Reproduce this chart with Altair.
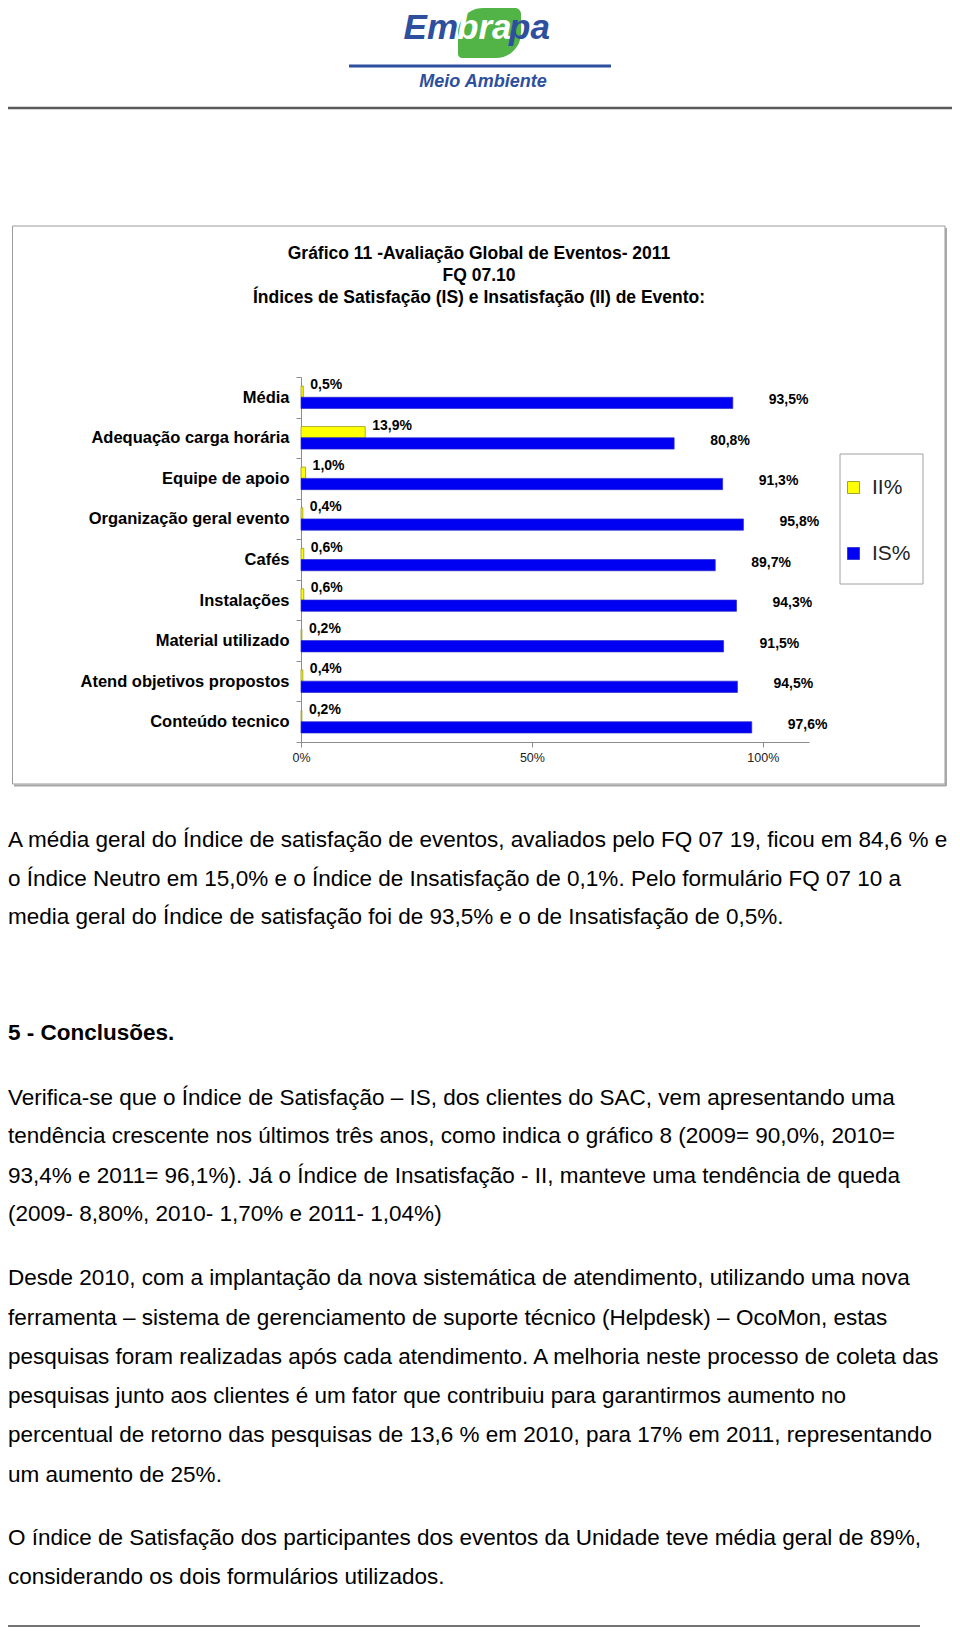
import altair as alt
import pandas as pd

# ---------------- data ----------------
categories = ["Média", "Adequação carga horária", "Equipe de apoio",
              "Organização geral evento", "Cafés", "Instalações",
              "Material  utilizado", "Atend objetivos propostos", "Conteúdo tecnico"]
ii_values = [0.5, 13.9, 1.0, 0.4, 0.6, 0.6, 0.2, 0.4, 0.2]
is_values = [93.5, 80.8, 91.3, 95.8, 89.7, 94.3, 91.5, 94.5, 97.6]
series = ["II%", "IS%"]
x_ticks = [0, 50, 100]

title_lines = ["Gráfico 11  -Avaliação Global de  Eventos- 2011",
               "FQ 07.10",
               "Índices de Satisfação (IS) e Insatisfação (II) de Evento:"]

para1 = ["A média geral do Índice de satisfação de eventos, avaliados pelo FQ 07 19, ficou em 84,6 % e",
         "o Índice Neutro em 15,0% e o Índice de Insatisfação de 0,1%. Pelo formulário FQ 07 10 a",
         "media geral do Índice de satisfação foi de 93,5% e o de Insatisfação de 0,5%."]
heading = "5 - Conclusões."
para2 = ["Verifica-se que o Índice de Satisfação – IS, dos clientes do SAC, vem apresentando uma",
         "tendência crescente nos últimos três anos, como indica o gráfico 8 (2009= 90,0%, 2010=",
         "93,4% e 2011= 96,1%). Já o Índice de Insatisfação - II, manteve uma tendência de queda",
         "(2009- 8,80%, 2010- 1,70% e 2011- 1,04%)"]
para3 = ["Desde 2010, com a implantação da nova sistemática de atendimento, utilizando uma nova",
         "ferramenta – sistema de gerenciamento de suporte técnico (Helpdesk) – OcoMon, estas",
         "pesquisas foram realizadas após cada atendimento. A melhoria neste processo de coleta das",
         "pesquisas junto aos clientes é um fator que contribuiu para garantirmos aumento no",
         "percentual de retorno das pesquisas de 13,6 % em 2010, para 17% em 2011, representando",
         "um aumento de 25%."]
para4 = ["O índice de Satisfação dos participantes dos eventos da Unidade teve média geral de 89%,",
         "considerando os dois formulários utilizados."]

df = pd.DataFrame({
    "cat": categories * 2,
    "serie": ["II%"] * len(categories) + ["IS%"] * len(categories),
    "v": ii_values + is_values,
})

FONT = "Liberation Sans"
BLUE_LOGO = "#2d4f9e"
one = pd.DataFrame({"k": [0]})

# plot origin on page: (301, 377); svg origin on page: (8, 8)
OX, OY = 301, 377


def px(x):
    return x - OX


def py(y):
    return y - OY


def txt(s, x, y, size, weight="normal", align="left", color="#000000",
        style="normal", baseline="middle"):
    return alt.Chart(one).mark_text(
        text=s, font=FONT, fontSize=size, fontWeight=weight, align=align,
        baseline=baseline, color=color, fontStyle=style
    ).encode(x=alt.value(px(x)), y=alt.value(py(y)))


def hline(x1, x2, y, color, width):
    return alt.Chart(one).mark_rule(color=color, strokeWidth=width).encode(
        x=alt.value(px(x1)), x2=alt.value(px(x2)), y=alt.value(py(y)))


def box(x1, x2, y1, y2, stroke, width=1):
    return alt.Chart(one).mark_rect(
        fillOpacity=0, stroke=stroke, strokeWidth=width
    ).encode(x=alt.value(px(x1)), x2=alt.value(px(x2)),
             y=alt.value(py(y1)), y2=alt.value(py(y2)))


layers = []

# ---- header / logo ----
layers.append(alt.Chart(one).mark_rect(
    color="#52b447", cornerRadiusTopLeft=26, cornerRadiusBottomRight=26,
    cornerRadiusTopRight=6, cornerRadiusBottomLeft=4
).encode(x=alt.value(px(458)), x2=alt.value(px(521)),
         y=alt.value(py(8)), y2=alt.value(py(58))))
layers.append(txt("Em", 458, 39, 35, "bold", "right", BLUE_LOGO, "italic", "alphabetic"))
layers.append(txt("bra", 457, 39, 35, "bold", "left", "#ffffff", "italic", "alphabetic"))
layers.append(txt("pa", 509, 39, 35, "bold", "left", BLUE_LOGO, "italic", "alphabetic"))
layers.append(hline(349, 611, 66, BLUE_LOGO, 3))
layers.append(txt("Meio Ambiente", 483, 87, 18, "bold", "center", BLUE_LOGO, "italic", "alphabetic"))
layers.append(hline(8, 952, 108, "#5a5a5a", 2.5))

# ---- chart frame ----
layers.append(box(12.5, 945, 226, 784, "#9a9a9a"))
layers.append(hline(14, 946, 785.5, "#a8a8a8", 2))
layers.append(alt.Chart(one).mark_rule(color="#a8a8a8", strokeWidth=2).encode(
    x=alt.value(px(946)), y=alt.value(py(228)), y2=alt.value(py(786))))

# ---- titles ----
for line, yy in zip(title_lines, [254, 276, 298]):
    layers.append(txt(line, 479, yy, 17.5, "bold", "center"))

# ---- legend frame ----
layers.append(box(840, 923, 454, 584, "#a0a0a0"))

# ---- bars ----
base = alt.Chart(df)
bars = base.mark_bar(strokeWidth=0.7).encode(
    x=alt.X("v:Q", scale=alt.Scale(domain=[0, 110], nice=False, zero=True),
            axis=alt.Axis(values=x_ticks, labelExpr="datum.value + '%'", title=None,
                          grid=False, domainColor="#8c8c8c", tickColor="#8c8c8c",
                          tickSize=5, labelPadding=4, labelFont=FONT, labelFontSize=12.5,
                          labelColor="#222222", labelFontWeight="normal",
                          labelFlush=False)),
    y=alt.Y("cat:N", sort=categories, scale=alt.Scale(paddingInner=0, paddingOuter=0),
            axis=alt.Axis(title=None, tickBand="extent", domainColor="#8c8c8c",
                          tickColor="#8c8c8c", tickSize=5, labelPadding=7,
                          labelFont=FONT, labelFontSize=16.5, labelFontWeight="bold",
                          labelColor="#000000", labelLimit=400)),
    yOffset=alt.YOffset("serie:N", sort=series,
                        scale=alt.Scale(paddingInner=0, paddingOuter=0.8)),
    color=alt.Color("serie:N", sort=series,
                    scale=alt.Scale(domain=series, range=["#ffff00", "#0000f2"]),
                    legend=alt.Legend(title=None, orient="none",
                                      legendX=px(843), legendY=py(477),
                                      padding=0, rowPadding=44, symbolType="square",
                                      symbolSize=144, symbolStrokeColor="#555555",
                                      symbolStrokeWidth=0.8, labelFont=FONT,
                                      labelFontSize=21, labelColor="#222222",
                                      labelOffset=8)),
    stroke=alt.Stroke("serie:N", sort=series,
                      scale=alt.Scale(domain=series, range=["#8a8a10", "#2a2acc"]),
                      legend=None),
)
layers.append(bars)

lab_expr = "replace(format(datum.v, '.1f'), '.', ',') + '%'"
ii_labels = base.transform_filter("datum.serie == 'II%'").transform_calculate(
    lab=lab_expr).mark_text(align="left", baseline="middle", dx=7, dy=-12,
                            font=FONT, fontSize=14, fontWeight="bold",
                            color="#000000").encode(
    x="v:Q", y=alt.Y("cat:N", sort=categories), text="lab:N")
is_labels = base.transform_filter("datum.serie == 'IS%'").transform_calculate(
    lab=lab_expr).mark_text(align="left", baseline="middle", dx=36, dy=3,
                            font=FONT, fontSize=14, fontWeight="bold",
                            color="#000000").encode(
    x="v:Q", y=alt.Y("cat:N", sort=categories), text="lab:N")
layers.append(ii_labels)
layers.append(is_labels)

# ---- document text ----
PX_L = 8
FS = 22.5
for line, yy in zip(para1, [840, 879, 917]):
    layers.append(txt(line, PX_L, yy, FS))
layers.append(txt(heading, PX_L, 1033, FS, "bold"))
for line, yy in zip(para2, [1098, 1136, 1176, 1214]):
    layers.append(txt(line, PX_L, yy, FS))
for line, yy in zip(para3, [1278, 1318, 1357, 1396, 1435, 1475]):
    layers.append(txt(line, PX_L, yy, FS))
for line, yy in zip(para4, [1538, 1577]):
    layers.append(txt(line, PX_L, yy, FS))
layers.append(hline(8, 920, 1626, "#444444", 1.5))

PAGE_W, PAGE_H = 944, 1619
W, H = 508, 365
pad = {"left": OX - 8, "top": OY - 8,
       "right": PAGE_W - (OX - 8) - W, "bottom": PAGE_H - (OY - 8) - H}

chart = alt.layer(*layers).properties(
    width=W, height=H, padding=pad,
    autosize=alt.AutoSizeParams(type="none"),
).configure_view(stroke=None)

chart.save("out.html", embed_options={"renderer": "svg", "actions": False})
